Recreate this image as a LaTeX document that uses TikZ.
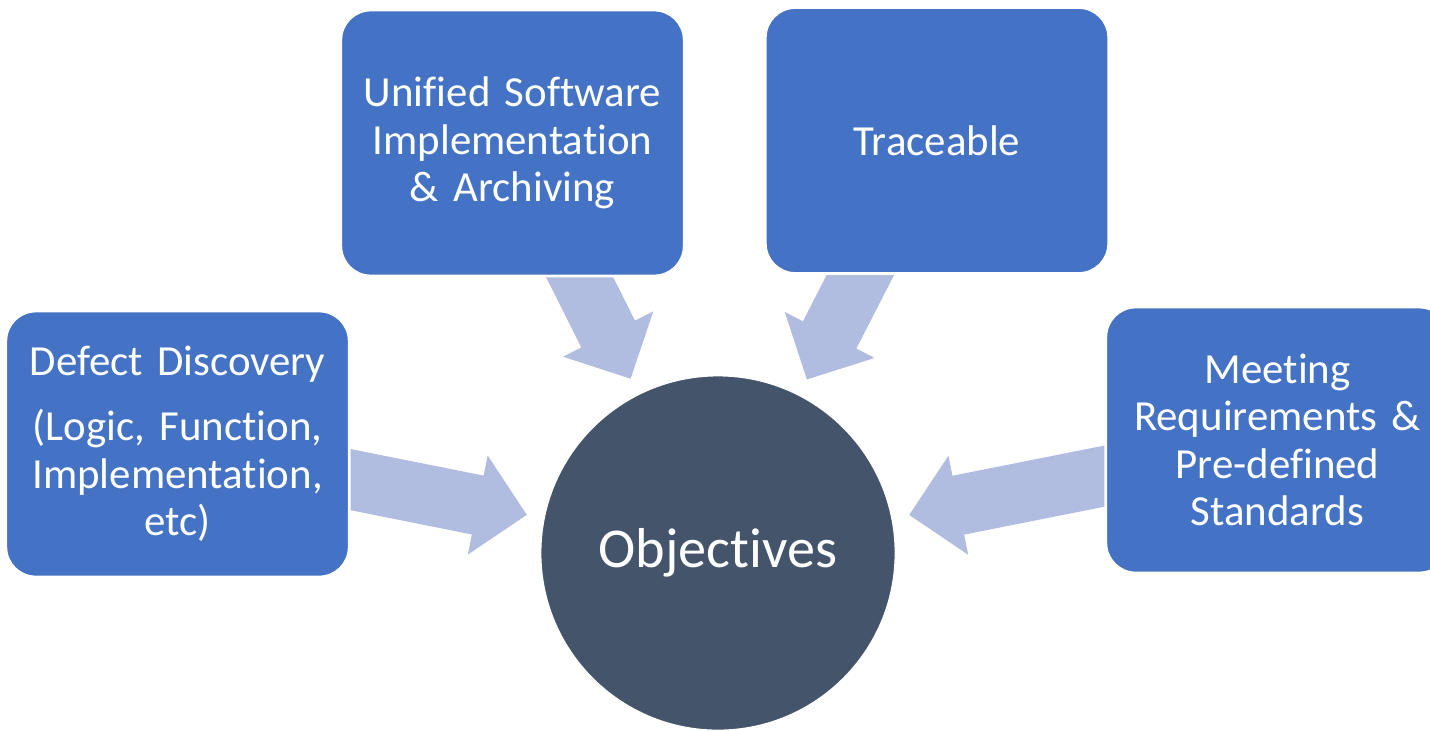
\documentclass[tikz,border=0pt]{standalone}
\usepackage{fontspec}
\setmainfont{Carlito}[Ligatures=NoCommon]
\usetikzlibrary{calc}
\definecolor{boxblue}{HTML}{4472C4}
\definecolor{objgray}{HTML}{44546A}
\definecolor{arrowblue}{HTML}{B0BCE0}
\tikzset{
	goal/.style={rectangle,rounded corners=0.3cm,fill=boxblue,draw=white,line width=0.8pt,
		minimum width=3.35cm,minimum height=2.66cm,text width=3.2cm,align=center,text=white,
		font=\fontsize{12.2}{13.5}\selectfont},
	centre/.style={circle,fill=objgray,draw=white,line width=0.8pt,minimum size=3.56cm,
		text=white,font=\fontsize{16}{19}\selectfont},
	fat/.style={fill=arrowblue},
}
% block arrow from coordinate #1 towards node #2
\newcommand{\convarrow}[2]{%
	\coordinate (tip) at ($(#2)!1.95cm!(#1)$);
	\coordinate (base) at ($(tip)!0.5cm!(#1)$);
	\fill[fat] ($(#1)!0.3cm!90:(tip)$) -- ($(base)!0.3cm!90:(tip)$) -- ($(base)!0.505cm!90:(tip)$)
		-- (tip) -- ($(base)!0.505cm!-90:(tip)$) -- ($(base)!0.3cm!-90:(tip)$) -- ($(#1)!0.3cm!-90:(tip)$) -- cycle;
}

\begin{document}
\begin{tikzpicture}[x=1cm,y=-1cm]

	\useasboundingbox (0,0) rectangle (14.3,7.3);

	% centre circle.....................
	\node [centre] (obj) at (7.18,5.53) {Objectives};

	% arrow tails (hidden under the boxes)......
	\coordinate (defect-out) at (3.30,4.755);
	\coordinate (unified-out) at (5.675,2.53);
	\coordinate (trace-out) at (8.716,2.53);
	\coordinate (meeting-out) at (11.25,4.72);

	% arrows.....................
	\convarrow{defect-out}{obj}
	\convarrow{unified-out}{obj}
	\convarrow{trace-out}{obj}
	\convarrow{meeting-out}{obj}

	% boxes......................
	\node [goal] (defect) at (1.775,4.44) {Defect Discovery\\[5pt](Logic, Function,\\Implementation,\\etc)};
	\node [goal] (unified) at (5.125,1.43) {Unified Software\\Implementation\\\& Archiving};
	\node [goal] (trace) at (9.37,1.405) {Traceable};
	\node [goal] (meeting) at (12.775,4.40) {Meeting\\Requirements \&\\Pre-defined\\Standards};

\end{tikzpicture}
\end{document}
